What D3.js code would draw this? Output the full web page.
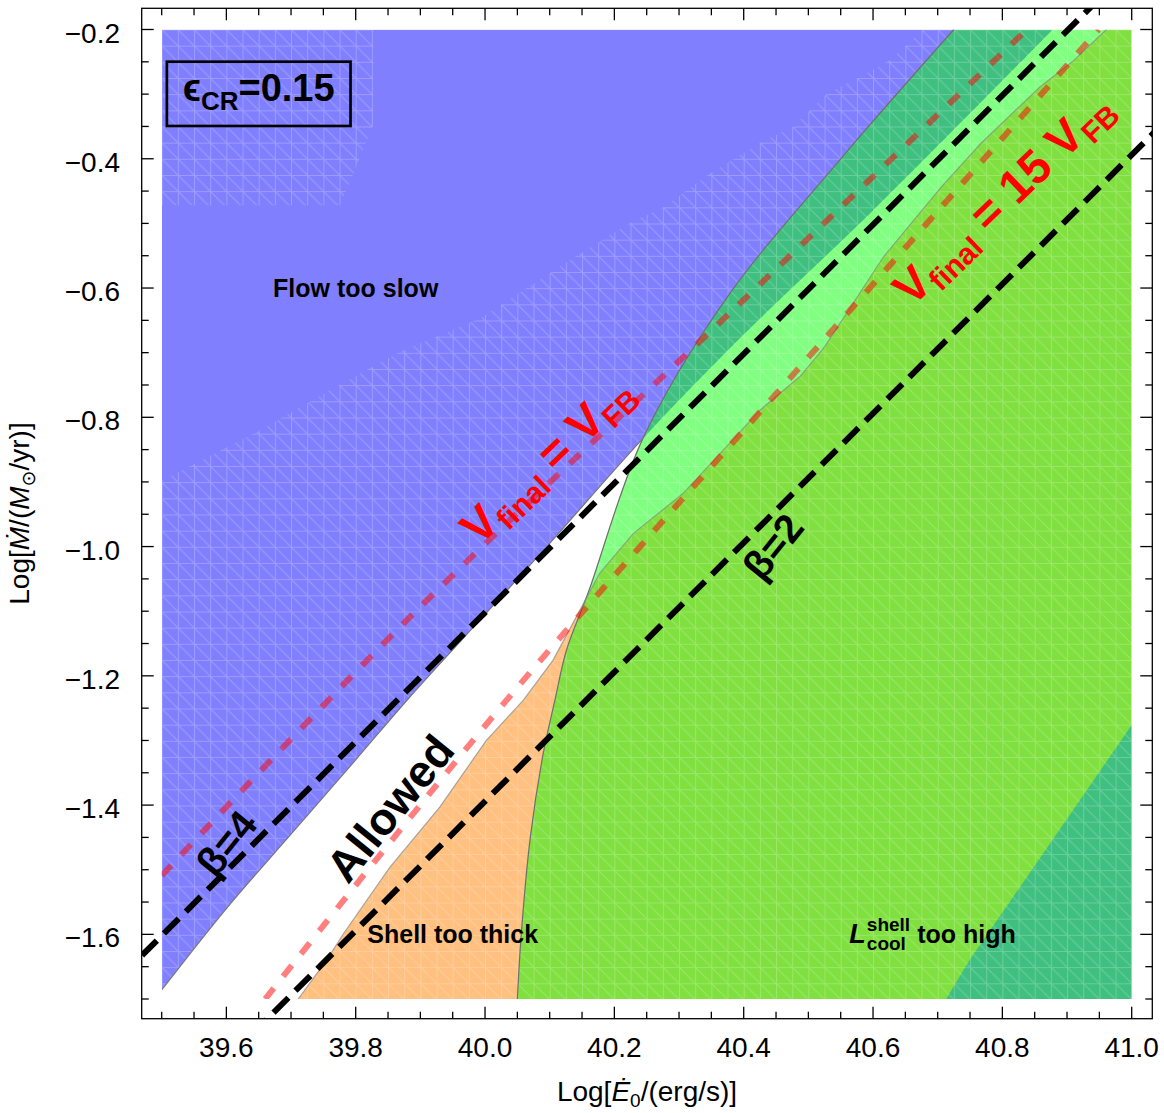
<!DOCTYPE html>
<html><head><meta charset="utf-8">
<script src="https://cdn.jsdelivr.net/npm/d3@7"></script>
<style>
body{margin:0;background:#fff}
svg{display:block}
text{font-family:"Liberation Sans",Arial,Helvetica,"DejaVu Sans",sans-serif}
</style>
</head><body>
<svg id="chart" width="1164" height="1113"></svg>
<script>
// ---------------- data ----------------
const xDomain = [39.5, 41.0];
const yDomain = [-1.7, -0.2];
const xMajorTicks = [39.6, 39.8, 40.0, 40.2, 40.4, 40.6, 40.8, 41.0];
const yMajorTicks = [-0.2, -0.4, -0.6, -0.8, -1.0, -1.2, -1.4, -1.6];
const xTickLabels = ["39.6","39.8","40.0","40.2","40.4","40.6","40.8","41.0"];
const yTickLabels = ["\u22120.2","\u22120.4","\u22120.6","\u22120.8","\u22121.0","\u22121.2","\u22121.4","\u22121.6"];

// boundary of "L_cool too high" (gray curve)
const coolBoundary = [[40.050,-1.70],[40.056,-1.60],[40.070,-1.45],[40.090,-1.32],[40.108,-1.238],
  [40.126,-1.160],[40.160,-1.070],[40.244,-0.833],[40.371,-0.619],[40.550,-0.400],[40.725,-0.200]];
// boundary of "flow too slow"
const flowBoundary = [[39.50,-1.686],[39.60,-1.560],[39.70,-1.445],[39.80,-1.330],[39.88,-1.237],
  [40.00,-1.105],[40.10,-0.995],[40.244,-0.833],[40.40,-0.672],[40.60,-0.480],[40.878,-0.200]];
// boundary of "shell too thick" (jagged)
const shellBoundary = [[39.711,-1.700],[39.755,-1.640],[39.781,-1.599],[39.853,-1.496],[39.930,-1.403],
  [40.002,-1.300],[40.059,-1.238],[40.105,-1.176],[40.177,-1.042],[40.229,-0.980],[40.306,-0.918],
  [40.383,-0.835],[40.425,-0.789],[40.487,-0.737],[40.525,-0.691],[40.616,-0.552],[40.706,-0.443],
  [40.767,-0.376],[40.858,-0.289],[40.908,-0.250],[40.961,-0.200]];
// lower-right corner region boundary
const cornerBoundary = [[40.713,-1.700],[40.749,-1.640],[41.000,-1.276]];
// V_final = V_FB and V_final = 15 V_FB
const vFinalVFB = [[39.500,-1.509],[39.879,-1.114],[40.394,-0.624],[40.838,-0.200]];
const vFinal15VFB = [[39.660,-1.700],[40.033,-1.238],[40.487,-0.722],[40.949,-0.200]];
// beta lines
const beta4 = [[39.5,-1.602],[41.0,-0.102]];
const beta2 = [[39.5,-1.894],[41.0,-0.394]];
// zone of the plot where the sampling mesh is sparse (no dense mesh drawn)
const sparseMeshZone = [[39.500,-0.472],[39.776,-0.472],[39.827,-0.348],[39.827,-0.200],[40.677,-0.200],
  [40.627,-0.247],[40.579,-0.274],[40.530,-0.298],[40.476,-0.351],[40.428,-0.374],[40.349,-0.422],
  [40.276,-0.475],[40.227,-0.498],[40.148,-0.546],[40.100,-0.577],[39.992,-0.647],[39.868,-0.699],
  [39.760,-0.758],[39.652,-0.820],[39.500,-0.898]];

// ---------------- layout ----------------
const svg = d3.select("#chart");
const x = d3.scaleLinear().domain(xDomain).range([161.7, 1131.7]);
const y = d3.scaleLinear().domain(yDomain).range([999, 29.5]);
const frame = {x0: 141.7, x1: 1152.3, y0: 8.3, y1: 1018.7};

const colors = {blue:"#8080ff", teal:"#40c080", lgreen:"#80ff80", green:"#80e040", orange:"#ffc080"};

const defs = svg.append("defs");
const P = p => `${x(p[0])},${y(p[1])}`;
const smooth = d3.line().x(d=>x(d[0])).y(d=>y(d[1])).curve(d3.curveCatmullRom.alpha(0.5));
const lin = d3.line().x(d=>x(d[0])).y(d=>y(d[1]));
function closed(lineStr, corners){ return lineStr + corners.map(c=>"L"+P(c)).join("") + "Z"; }

const dataRectPath = "M"+P([39.5,-0.2])+"L"+P([41,-0.2])+"L"+P([41,-1.7])+"L"+P([39.5,-1.7])+"Z";
defs.append("clipPath").attr("id","dataClip").append("path").attr("d",dataRectPath);
defs.append("clipPath").attr("id","frameClip").append("rect")
  .attr("x",frame.x0).attr("y",frame.y0).attr("width",frame.x1-frame.x0).attr("height",frame.y1-frame.y0);
const leftPath = "M"+P([39.5,-1.7]) + smooth(coolBoundary).replace(/^M/,"L") + "L"+P([39.5,-0.2])+"Z";
const rightPath = "M"+P([41,-1.7]) + smooth(coolBoundary).replace(/^M/,"L") + "L"+P([41,-0.2])+"Z";
defs.append("clipPath").attr("id","leftClip").append("path").attr("d",leftPath);
defs.append("clipPath").attr("id","rightClip").append("path").attr("d",rightPath);
defs.append("clipPath").attr("id","meshClip").append("path")
  .attr("d", dataRectPath + lin(sparseMeshZone) + "Z").attr("clip-rule","evenodd");

const abovePath = closed(smooth(flowBoundary), [[39.5,-0.2]]);
const belowPath = closed(lin(shellBoundary), [[41,-0.2],[41,-1.7]]);
const cornerPath = closed(lin(cornerBoundary), [[41,-1.7]]);

// mesh pattern
const cell = x(39.525)-x(39.5);
const pat = defs.append("pattern").attr("id","mesh").attr("patternUnits","userSpaceOnUse")
  .attr("x",x(39.5)).attr("y",y(-0.2)).attr("width",cell).attr("height",cell);
pat.append("path").attr("d",`M0,0.5L${cell},0.5M0.5,0L0.5,${cell}M0,0L${cell},${cell}`)
  .attr("stroke","#fff").attr("stroke-opacity",0.22).attr("stroke-width",1).attr("fill","none");

const gData = svg.append("g").attr("clip-path","url(#dataClip)");
gData.append("path").attr("d",dataRectPath).attr("fill","#fff");
const gL = gData.append("g").attr("clip-path","url(#leftClip)");
gL.append("path").attr("d",abovePath).attr("fill",colors.blue);
gL.append("path").attr("d",belowPath).attr("fill",colors.orange);
const gR = gData.append("g").attr("clip-path","url(#rightClip)");
gR.append("path").attr("d",dataRectPath).attr("fill",colors.lgreen);
gR.append("path").attr("d",abovePath).attr("fill",colors.teal);
gR.append("path").attr("d",belowPath).attr("fill",colors.green);
gR.append("path").attr("d",cornerPath).attr("fill",colors.teal);
gData.append("g").attr("clip-path","url(#meshClip)").append("path").attr("d",dataRectPath).attr("fill","url(#mesh)");

// boundary strokes
gData.append("path").attr("d",smooth(coolBoundary)).attr("fill","none").attr("stroke","#6e6e6e").attr("stroke-width",1.2);
gData.append("g").attr("clip-path","url(#leftClip)").append("path").attr("d",smooth(flowBoundary))
  .attr("fill","none").attr("stroke","#777").attr("stroke-width",1.2);
gData.append("path").attr("d",lin(shellBoundary)).attr("fill","none").attr("stroke","#888").attr("stroke-opacity",0.7).attr("stroke-width",1.2);

// red dashed lines
[vFinalVFB, vFinal15VFB].forEach(d=>{
  gData.append("path").attr("d",smooth(d)).attr("fill","none").attr("stroke","#ff0000").attr("stroke-opacity",0.5)
    .attr("stroke-width",6).attr("stroke-dasharray","14 15");
});

// black dashed beta lines (extended to frame)
const gF = svg.append("g").attr("clip-path","url(#frameClip)");
[beta4, beta2].forEach(d=>{
  const s = (d[1][1]-d[0][1])/(d[1][0]-d[0][0]);
  const ext = [[39.3, d[0][1]+s*(39.3-d[0][0])],[41.2, d[0][1]+s*(41.2-d[0][0])]];
  gF.append("path").attr("d",lin(ext)).attr("fill","none").attr("stroke","#000")
    .attr("stroke-width",6).attr("stroke-dasharray","21 10");
});

// ---------------- frame and ticks ----------------
const axG = svg.append("g").attr("stroke","#000").attr("stroke-width",1.3);
axG.append("rect").attr("x",frame.x0).attr("y",frame.y0).attr("width",frame.x1-frame.x0).attr("height",frame.y1-frame.y0).attr("fill","none");
const xMinor = d3.range(0,31).map(i=>39.5+i*0.05);
const yMinor = d3.range(0,31).map(i=>-0.2-i*0.05);
const isMajor = (v,arr)=>arr.some(a=>Math.abs(a-v)<1e-6);
xMinor.forEach(v=>{
  const L = isMajor(v,xMajorTicks)?12:7;
  axG.append("line").attr("x1",x(v)).attr("x2",x(v)).attr("y1",frame.y1).attr("y2",frame.y1-L);
  axG.append("line").attr("x1",x(v)).attr("x2",x(v)).attr("y1",frame.y0).attr("y2",frame.y0+L);
});
yMinor.forEach(v=>{
  const L = isMajor(v,yMajorTicks)?12:7;
  axG.append("line").attr("y1",y(v)).attr("y2",y(v)).attr("x1",frame.x0).attr("x2",frame.x0+L);
  axG.append("line").attr("y1",y(v)).attr("y2",y(v)).attr("x1",frame.x1).attr("x2",frame.x1-L);
});
svg.append("g").selectAll("text").data(xMajorTicks).join("text")
  .attr("x",d=>x(d)).attr("y",1057).attr("text-anchor","middle").attr("font-size",28).text((d,i)=>xTickLabels[i]);
svg.append("g").selectAll("text").data(yMajorTicks).join("text")
  .attr("x",120).attr("y",d=>y(d)+3).attr("dy","0.36em").attr("text-anchor","end").attr("font-size",28).text((d,i)=>yTickLabels[i]);

// axis titles
const xt = svg.append("text").attr("x",(frame.x0+frame.x1)/2).attr("y",1101).attr("text-anchor","middle").attr("font-size",28);
xt.append("tspan").text("Log[");
xt.append("tspan").attr("font-style","italic").text("\u0116");
xt.append("tspan").attr("font-size",19).attr("dy",6).text("0");
xt.append("tspan").attr("dy",-6).text("/(erg/s)]");
const yt = svg.append("text").attr("transform",`translate(29,${(frame.y0+frame.y1)/2}) rotate(-90)`).attr("text-anchor","middle").attr("font-size",28);
yt.append("tspan").text("Log[");
yt.append("tspan").attr("font-style","italic").text("\u1E40");
yt.append("tspan").text("/(");
yt.append("tspan").attr("font-style","italic").text("M");
yt.append("tspan").attr("font-size",19).attr("dy",6).text("\u2299");
yt.append("tspan").attr("dy",-6).text("/yr)]");

// ---------------- annotations ----------------
// epsilon box
svg.append("rect").attr("x",x(39.508)).attr("y",y(-0.2498)).attr("width",x(39.792)-x(39.508)).attr("height",y(-0.3493)-y(-0.2498))
  .attr("fill","none").attr("stroke","#000").attr("stroke-width",2.7);
const eb = svg.append("text").attr("x",(x(39.508)+x(39.792))/2).attr("y",y(-0.311)).attr("text-anchor","middle").attr("font-weight","bold").attr("font-size",38);
eb.append("tspan").text("\u03F5");
eb.append("tspan").attr("font-size",26).attr("dy",9).text("CR");
eb.append("tspan").attr("dy",-9).text("=0.15");

function label(txt, dx, dy, size, rot){
  return svg.append("text").attr("transform",`translate(${x(dx)},${y(dy)}) rotate(${rot||0})`)
    .attr("text-anchor","middle").attr("dy","0.35em").attr("font-weight","bold").attr("font-size",size).text(txt);
}
label("Flow too slow", 39.80, -0.600, 25);
label("Shell too thick", 39.95, -1.600, 25);
label("Allowed", 39.853, -1.405, 45, -51);
label("\u03B2=4", 39.60, -1.459, 40, -51);
label("\u03B2=2", 40.445, -1.000, 40, -51);

// L_cool^shell too high
(function(){
  const g = svg.append("g").attr("font-weight","bold");
  const base = y(-1.60)+9;
  const Lt = g.append("text").attr("font-style","italic").attr("font-size",27).attr("y",base).text("L");
  const sh = g.append("text").attr("font-size",19).attr("y",base-12).text("shell");
  const co = g.append("text").attr("font-size",19).attr("y",base+7).text("cool");
  const th = g.append("text").attr("font-size",25).attr("y",base).text("too high");
  const wL = Lt.node().getComputedTextLength()+1;
  const wS = Math.max(sh.node().getComputedTextLength(), co.node().getComputedTextLength())+7;
  const wT = th.node().getComputedTextLength();
  const x0 = x(40.692) - (wL+wS+wT)/2;
  Lt.attr("x",x0); sh.attr("x",x0+wL); co.attr("x",x0+wL); th.attr("x",x0+wL+wS);
})();

// red labels
function vlabel(cx, cy, mid){
  const t = svg.append("text").attr("transform",`translate(${x(cx)},${y(cy)}) rotate(-44)`)
    .attr("text-anchor","middle").attr("dy","0.35em").attr("font-weight","bold").attr("fill","#ff0000").attr("font-size",47);
  t.append("tspan").text("V");
  t.append("tspan").attr("font-size",30).attr("dy",9).text("final");
  t.append("tspan").attr("dy",-9).text(mid);
  t.append("tspan").attr("font-size",30).attr("dy",9).text("FB");
}
vlabel(40.095, -0.865, " = V");
vlabel(40.80, -0.460, " = 15 V");
</script>
</body></html>
